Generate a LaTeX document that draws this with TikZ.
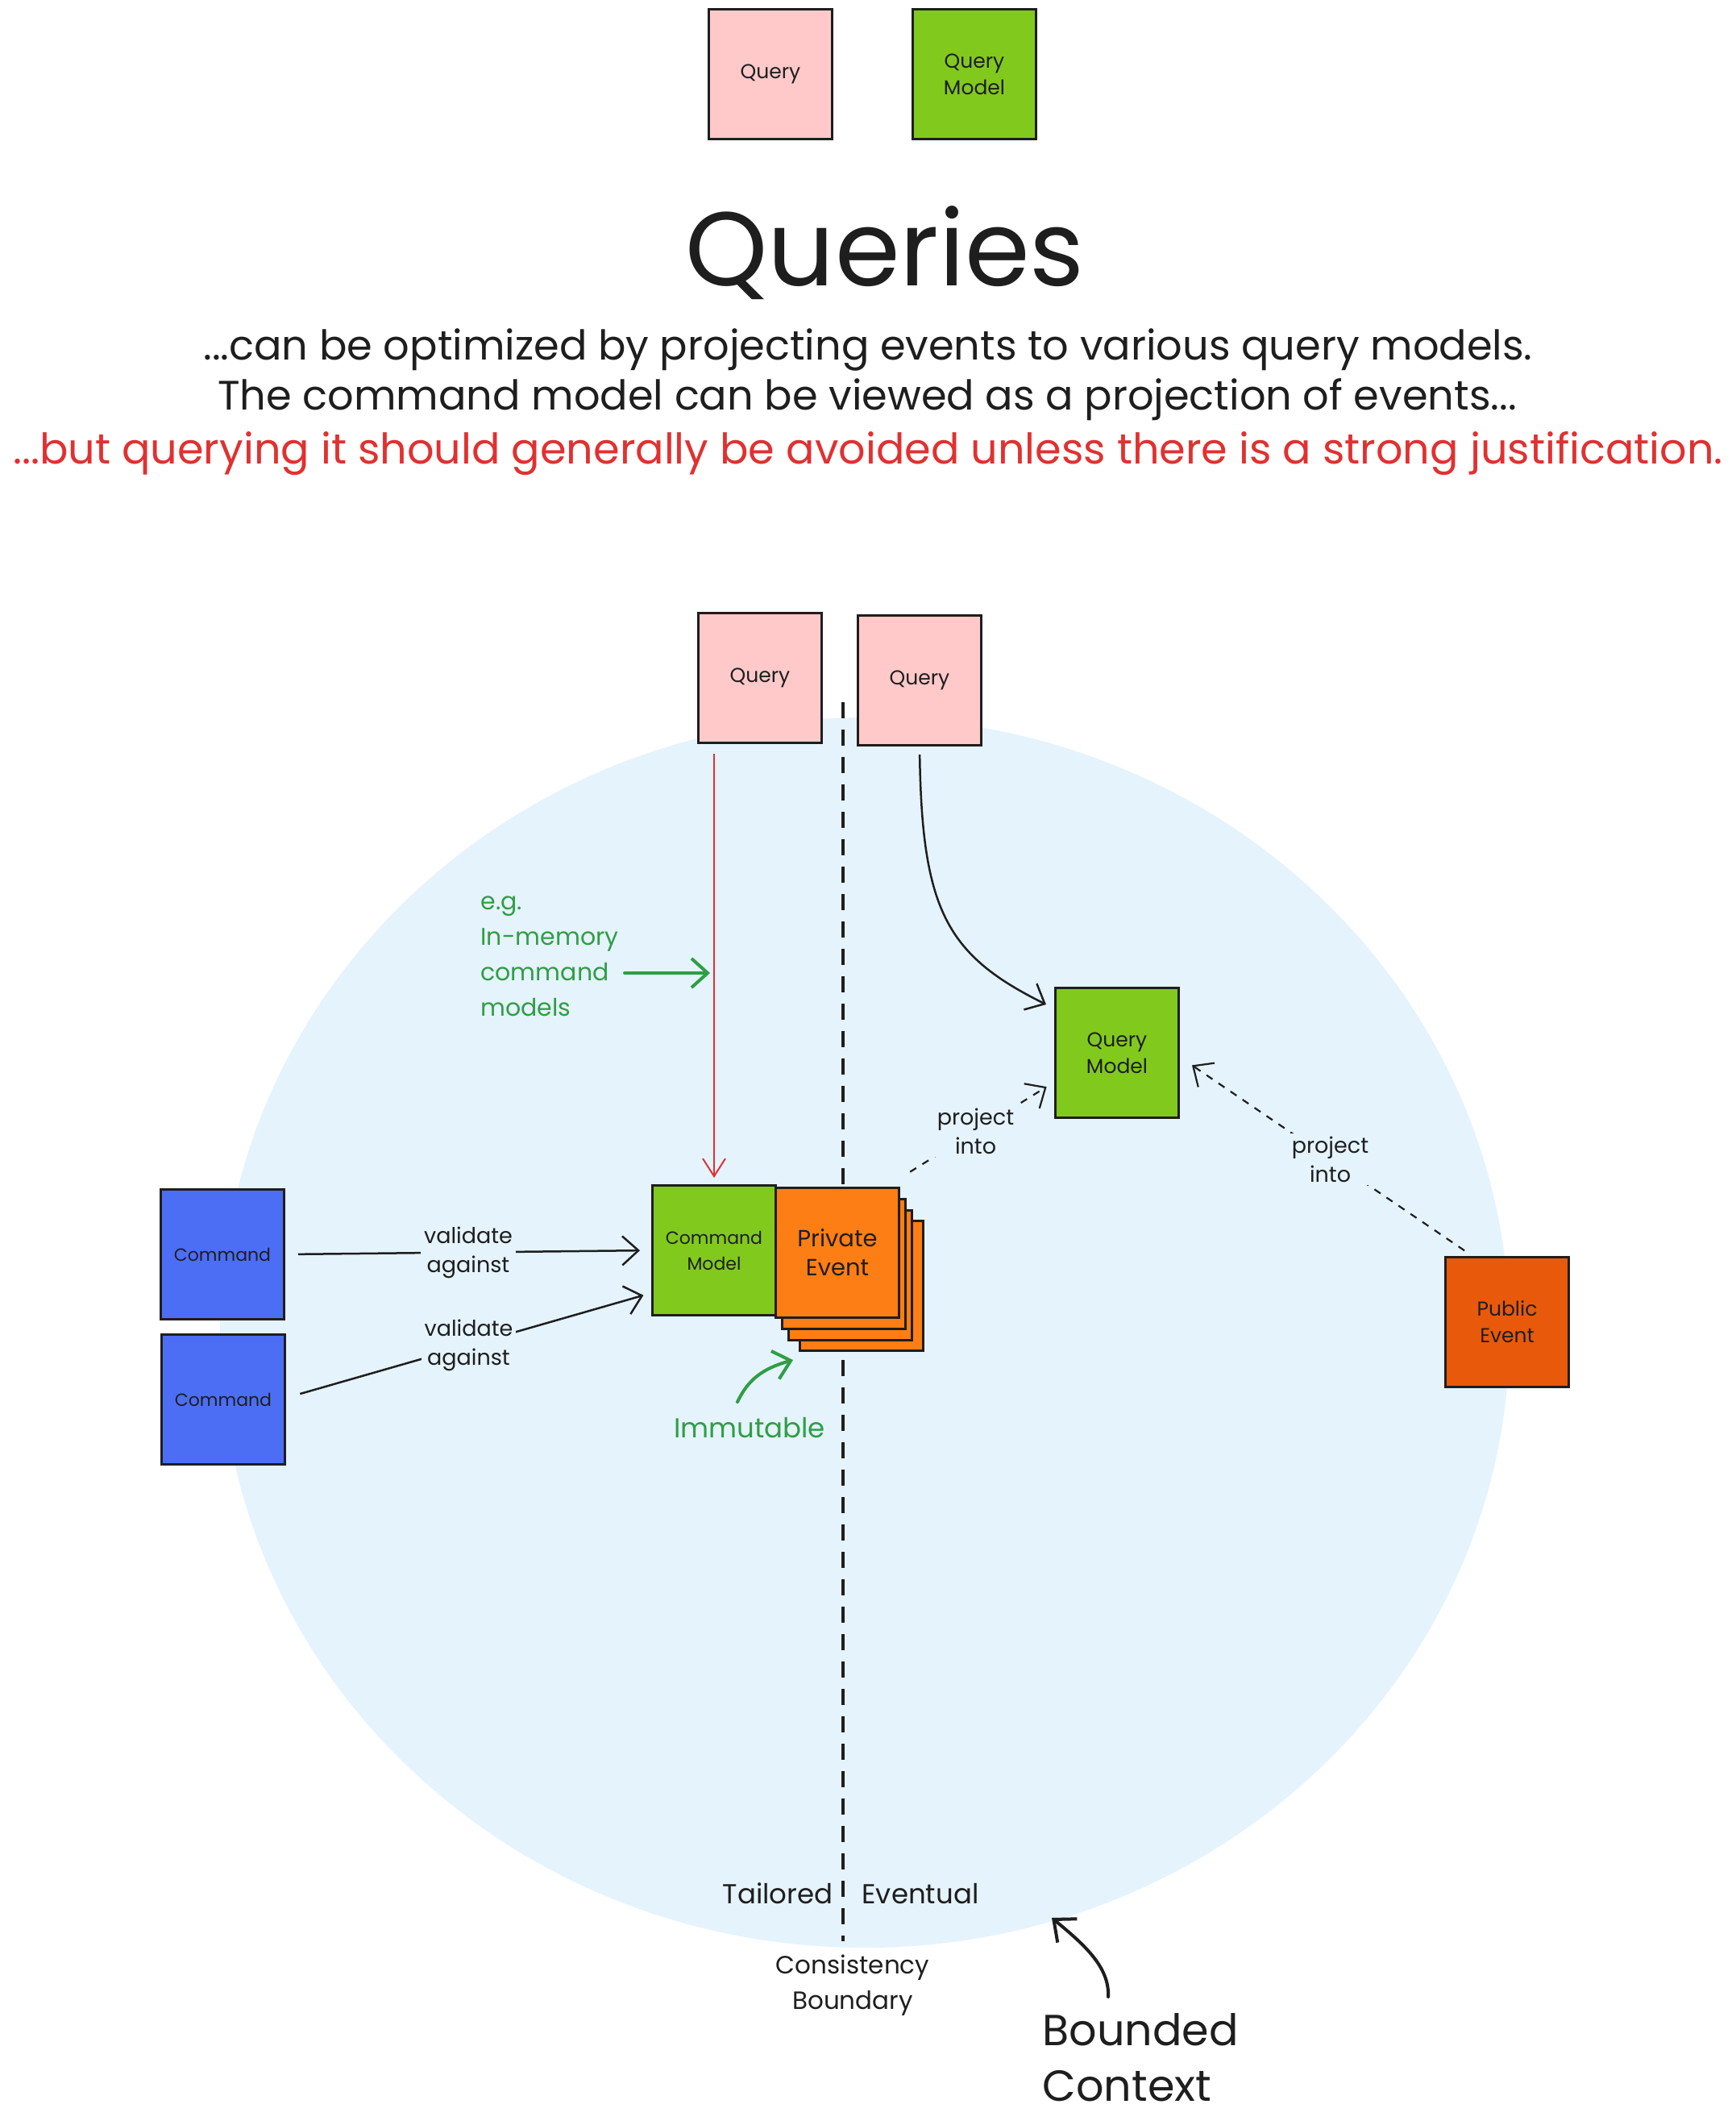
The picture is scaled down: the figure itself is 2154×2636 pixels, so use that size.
\documentclass[tikz,border=0pt]{standalone}
\usepackage{fontspec}
\setmainfont{Poppins}
\usetikzlibrary{arrows.meta}
\definecolor{ink}{HTML}{1E1E1E}
\definecolor{bgblue}{HTML}{E5F3FD}
\definecolor{qpink}{HTML}{FFC9C9}
\definecolor{lime}{HTML}{82C91E}
\definecolor{cmdblue}{HTML}{4C6EF5}
\definecolor{evorange}{HTML}{FD7E14}
\definecolor{puborange}{HTML}{E8590C}
\definecolor{txtred}{HTML}{E03131}
\definecolor{txtgreen}{HTML}{2F9E44}
\begin{document}
\begin{tikzpicture}[x=1pt,y=-1pt,
  card/.style={draw=ink, line width=3, minimum width=153, minimum height=161, inner sep=0, align=center, text=ink, font=\fontsize{25}{33}\selectfont},
  smallcard/.style={card, font=\fontsize{22}{32}\selectfont},
  conn/.style={draw=ink, line width=2.5, -{Straight Barb[length=20pt,width=36pt,line width=2.5pt]}},
  dconn/.style={draw=ink, line width=2.2, dash pattern=on 9pt off 9pt, -{Straight Barb[length=20pt,width=36pt,line width=2.2pt]}},
  lbl/.style={fill=bgblue, inner sep=4, align=center, text=ink, font=\fontsize{27}{36}\selectfont},
  garrow/.style={draw=txtgreen, line width=4, line cap=round, -{Straight Barb[length=20pt,width=36pt,line width=4pt]}}
]
\useasboundingbox[fill=white] (0,0) rectangle (2154,2636);
% bounded context circle
\fill[bgblue] (1073,1653) ellipse [x radius=800, y radius=763];

% legend boxes
\node[card, fill=qpink] (lq) at (956,92) {Query};
\node[card, fill=lime] (lqm) at (1209,92) {Query\\Model};

% headline
\node[text=ink, font=\fontsize{130}{150}\selectfont] (title) at (1098,314) {Queries};
\node[text=ink, font=\fontsize{51}{60}\selectfont] (l1) at (1077,434) {...can be optimized by projecting events to various query models.};
\node[text=ink, font=\fontsize{51}{60}\selectfont] (l2) at (1076,496) {The command model can be viewed as a projection of events...};
\node[text=txtred, font=\fontsize{52.5}{60}\selectfont] (l3) at (1077,563) {...but querying it should generally be avoided unless there is a strong justification.};

% consistency boundary
\coordinate (bTop) at (1046,871);
\coordinate (bBot) at (1046,2408);
\draw[ink, line width=4, dash pattern=on 20pt off 14pt] (bTop) -- (bBot);

% boxes
\node[card, fill=qpink] (qa) at (943,841) {Query};
\node[card, fill=qpink] (qb) at (1141,844) {Query};
\node[card, fill=lime] (qm) at (1386,1306) {Query\\Model};
\node[smallcard, fill=lime] (cm) at (886,1551) {Command\\Model};
\node[card, fill=evorange] (pe4) at (1069,1595) {};
\node[card, fill=evorange] (pe3) at (1055,1582) {};
\node[card, fill=evorange] (pe2) at (1047,1568) {};
\node[card, fill=evorange, font=\fontsize{29}{36}\selectfont] (pe) at (1039,1554) {Private\\Event};
\node[card, fill=puborange] (pub) at (1870,1640) {Public\\Event};
\node[smallcard, fill=cmdblue] (c1) at (276,1556) {Command};
\node[smallcard, fill=cmdblue] (c2) at (277,1736) {Command};

% red query into command model
\draw[txtred, line width=2, -{Straight Barb[length=22pt,width=28pt,line width=2pt]}, shorten <=12pt, shorten >=8pt] (cm |- qa.south) -- (cm.north);

% curved query -> query model
\draw[conn, shorten <=10pt] (qb.south) .. controls (1144,1130) and (1175,1185) .. ([shift={(-10,22)}]qm.north west);

% validate arrows
\draw[conn, shorten <=16pt, shorten >=14pt] (c1.east) -- node[lbl] {validate\\against} (cm.west);
\draw[conn, shorten <=18pt, shorten >=10pt] ([shift={(0,-2)}]c2.east) -- node[lbl] {validate\\against} ([shift={(0,53)}]cm.west);

% project into
\draw[dconn, shorten <=12pt, shorten >=4pt] ([shift={(2,-12)}]pe.north east) -- node[lbl] {project\\into} ([shift={(-6,40)}]qm.west);
\draw[dconn, shorten <=12pt, shorten >=6pt] ([shift={(35,0)}]pub.north west) -- node[lbl] {project\\into} ([shift={(10,12)}]qm.east);

% green annotations
\node[text=txtgreen, align=left, anchor=west, font=\fontsize{30}{44}\selectfont] (eg) at (593,1186) {e.g.\\In-memory\\command\\models};
\coordinate (gA) at (775,1207);
\coordinate (gB) at (881,1207);
\draw[garrow] (gA) -- (gB);
\node[text=txtgreen, font=\fontsize{34}{40}\selectfont] (imm) at (930,1771) {Immutable};
\coordinate (iA) at (915,1739);
\coordinate (iB) at (984,1687);
\draw[garrow] (iA) .. controls (928,1712) and (945,1698) .. (iB);

% bottom labels
\node[text=ink, anchor=east, font=\fontsize{34}{40}\selectfont] (tail) at (1037,2349) {Tailored};
\node[text=ink, anchor=west, font=\fontsize{34}{40}\selectfont] (ev) at (1066,2349) {Eventual};
\node[text=ink, align=center, font=\fontsize{31}{44}\selectfont] (cb) at (1058,2463) {Consistency\\Boundary};
\node[text=ink, align=left, anchor=west, font=\fontsize{54}{69}\selectfont] (bc) at (1290,2552) {Bounded\\Context};
\coordinate (bcA) at (1375,2477);
\coordinate (bcB) at (1305,2379);
\draw[conn, line width=4, line cap=round, -{Straight Barb[length=22pt,width=38pt,line width=4pt]}] (bcA) .. controls (1377,2440) and (1345,2412) .. (bcB);
\end{tikzpicture}
\end{document}
